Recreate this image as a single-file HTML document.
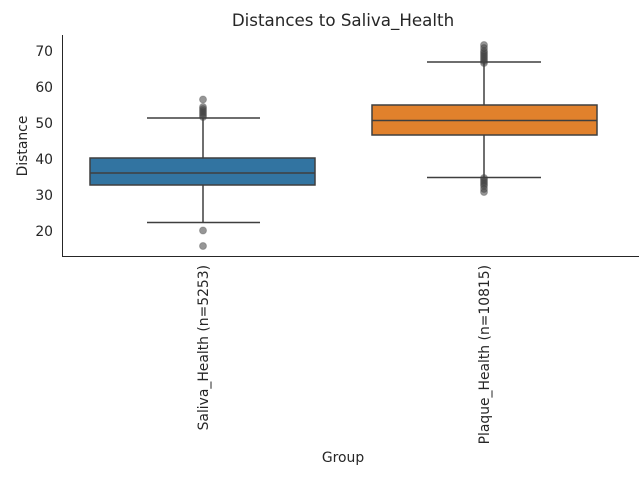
<!DOCTYPE html>
<html><head><style>body{margin:0;background:#fff}svg{display:block}text{font-family:"DejaVu Sans",sans-serif;fill:#262626}</style></head>
<body><svg width="640" height="480" viewBox="0 0 640 480">
<text x="343" y="26" font-size="16.7" text-anchor="middle">Distances to Saliva_Health</text>
<line x1="62.5" y1="35" x2="62.5" y2="256" stroke="#262626" stroke-width="1"/>
<line x1="62" y1="256.5" x2="639" y2="256.5" stroke="#262626" stroke-width="1"/>
<g font-size="13.9" text-anchor="end">
<text x="53" y="236">20</text><text x="53" y="200">30</text><text x="53" y="164">40</text><text x="53" y="128">50</text><text x="53" y="92">60</text><text x="53" y="56">70</text>
</g>
<text transform="translate(27,146) rotate(-90)" font-size="13.9" text-anchor="middle">Distance</text>
<text x="343" y="462" font-size="13.9" text-anchor="middle">Group</text>
<text transform="translate(208,265) rotate(-90)" font-size="13.9" text-anchor="end">Saliva_Health (n=5253)</text>
<text transform="translate(489,265) rotate(-90)" font-size="13.9" text-anchor="end">Plaque_Health (n=10815)</text>
<g stroke="#3f3f3f" stroke-width="1.5" fill="none">
<line x1="203" y1="118" x2="203" y2="158"/><line x1="203" y1="185" x2="203" y2="222.5"/>
<line x1="147" y1="118" x2="260" y2="118"/><line x1="147" y1="222.5" x2="260" y2="222.5"/>
<rect x="90" y="158" width="225" height="27" fill="#3274a1"/>
<line x1="90" y1="173" x2="315" y2="173"/>
<line x1="484" y1="62" x2="484" y2="105"/><line x1="484" y1="135" x2="484" y2="177.5"/>
<line x1="427" y1="62" x2="541" y2="62"/><line x1="427" y1="177.5" x2="541" y2="177.5"/>
<rect x="372" y="105" width="225" height="30" fill="#e1812c"/>
<line x1="372" y1="120.5" x2="597" y2="120.5"/>
</g>
<g fill="#3f3f3f" fill-opacity="0.55" stroke="#3f3f3f" stroke-opacity="0.3">
<circle cx="203" cy="99.5" r="3.5"/><circle cx="203" cy="107" r="3.5"/><circle cx="203" cy="109" r="3.5"/><circle cx="203" cy="111" r="3.5"/><circle cx="203" cy="113" r="3.5"/><circle cx="203" cy="115" r="3.5"/><circle cx="203" cy="117" r="3.5"/>
<circle cx="203" cy="230.5" r="3.5"/><circle cx="203" cy="246" r="3.5"/>
<circle cx="484" cy="45" r="3.5"/><circle cx="484" cy="48" r="3.5"/><circle cx="484" cy="51" r="3.5"/><circle cx="484" cy="53" r="3.5"/><circle cx="484" cy="55" r="3.5"/><circle cx="484" cy="57" r="3.5"/><circle cx="484" cy="59" r="3.5"/><circle cx="484" cy="61" r="3.5"/><circle cx="484" cy="63" r="3.5"/>
<circle cx="484" cy="178" r="3.5"/><circle cx="484" cy="180" r="3.5"/><circle cx="484" cy="182" r="3.5"/><circle cx="484" cy="184" r="3.5"/><circle cx="484" cy="186" r="3.5"/><circle cx="484" cy="189" r="3.5"/><circle cx="484" cy="192" r="3.5"/>
</g>
</svg></body></html>
